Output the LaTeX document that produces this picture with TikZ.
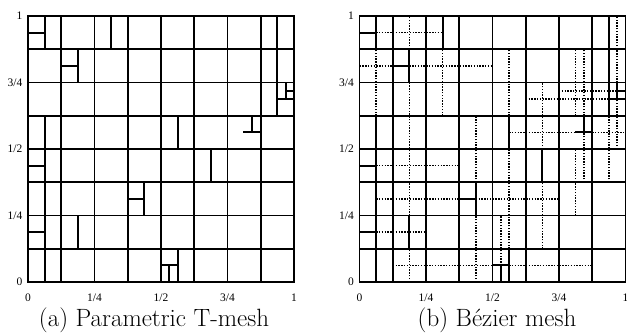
\documentclass[tikz,border=0pt]{standalone}
\usepackage{fontspec}
\newfontfamily\tickfont{Liberation Serif}
\newcommand\tmeshlines{%
  \foreach \j in {0,2,...,16} \draw[mesh] (0,\j) -- (16,\j);
  \foreach \i in {0,2,...,16} \draw[mesh] (\i,0) -- (\i,16);
  \draw[mesh] (1,0) -- (1,10) (1,14) -- (1,16);
  \draw[mesh] (3,12) -- (3,14) (3,2) -- (3,4);
  \draw[mesh] (5,14) -- (5,16);
  \draw[mesh] (7,4) -- (7,6);
  \draw[mesh] (9,8) -- (9,10) (9,0) -- (9,2);
  \draw[mesh] (11,6) -- (11,8);
  \draw[mesh] (15,10) -- (15,16);
  \draw[mesh] (0,15) -- (1,15) (2,13) -- (3,13);
  \draw[mesh] (15,11) -- (16,11) (15.5,11) -- (15.5,12) (15.5,11.5) -- (16,11.5);
  \draw[mesh] (13,9) -- (14,9) (13.5,9) -- (13.5,10);
  \draw[mesh] (0,7) -- (1,7) (6,5) -- (7,5) (0,3) -- (1,3);
  \draw[mesh] (8,1) -- (9,1) (8.5,0) -- (8.5,1);
}
\newcommand\meshlabels[1]{%
  \node[ticklbl, anchor=east] (#1y0) at (-0.33,0) {0};
  \node[ticklbl, anchor=east] (#1y1) at (-0.33,4) {1/4};
  \node[ticklbl, anchor=east] (#1y2) at (-0.33,8) {1/2};
  \node[ticklbl, anchor=east] (#1y3) at (-0.33,12) {3/4};
  \node[ticklbl, anchor=east] (#1y4) at (-0.33,16) {1};
  \node[ticklbl] (#1x0) at (0,-0.92) {0};
  \node[ticklbl] (#1x1) at (4,-0.92) {1/4};
  \node[ticklbl] (#1x2) at (8,-0.92) {1/2};
  \node[ticklbl] (#1x3) at (12,-0.92) {3/4};
  \node[ticklbl] (#1x4) at (16,-0.92) {1};
}
\begin{document}
\begin{tikzpicture}[x=1pt,y=1pt,
  mesh/.style={line width=1.9pt, line cap=rect},
  bez/.style={line width=1.5pt, dash pattern=on 1.4pt off 1.4pt},
  ticklbl/.style={font=\tickfont\fontsize{11.5}{11.5}\selectfont, inner sep=0pt},
  captext/.style={font=\fontsize{25}{25}\selectfont, inner sep=0pt}]
\useasboundingbox (0,0) rectangle (627,333);

% (a) parametric T-mesh
\begin{scope}[shift={(28,51)}, x=16.625pt, y=16.625pt]
  \tmeshlines
  \meshlabels{a}
\end{scope}

% (b) Bezier mesh
\begin{scope}[shift={(359.5,51)}, x=16.625pt, y=16.625pt]
  % dotted extensions
  \draw[bez] (1,10) -- (1,14);
  \draw[bez] (3,0) -- (3,2) (3,4) -- (3,12) (3,14) -- (3,16);
  \draw[bez] (5,10) -- (5,14);
  \draw[bez] (7,0) -- (7,4) (7,6) -- (7,10);
  \draw[bez] (8.5,1) -- (8.5,4);
  \draw[bez] (9,2) -- (9,8) (9,10) -- (9,14);
  \draw[bez] (11,2) -- (11,6) (11,8) -- (11,12);
  \draw[bez] (13,4) -- (13,8) (13,10) -- (13,14);
  \draw[bez] (13.5,6) -- (13.5,9) (13.5,10) -- (13.5,14);
  \draw[bez] (15,6) -- (15,10);
  \draw[bez] (15.5,8) -- (15.5,11) (15.5,12) -- (15.5,16);
  \draw[bez] (1,15) -- (5,15);
  \draw[bez] (0,13) -- (2,13) (3,13) -- (8,13);
  \draw[bez] (12,11.5) -- (15.5,11.5);
  \draw[bez] (10,11) -- (15,11);
  \draw[bez] (9,9) -- (13,9) (14,9) -- (16,9);
  \draw[bez] (1,7) -- (6,7);
  \draw[bez] (1,5) -- (6,5) (7,5) -- (12,5);
  \draw[bez] (1,3) -- (4,3);
  \draw[bez] (2,1) -- (8,1) (9,1) -- (14,1);
  \tmeshlines
  \meshlabels{b}
\end{scope}

\node[captext] (capa) at (154,13) {(a) Parametric T-mesh};
\node[captext] (capb) at (497,13) {(b) Bézier mesh};
\end{tikzpicture}
\end{document}
